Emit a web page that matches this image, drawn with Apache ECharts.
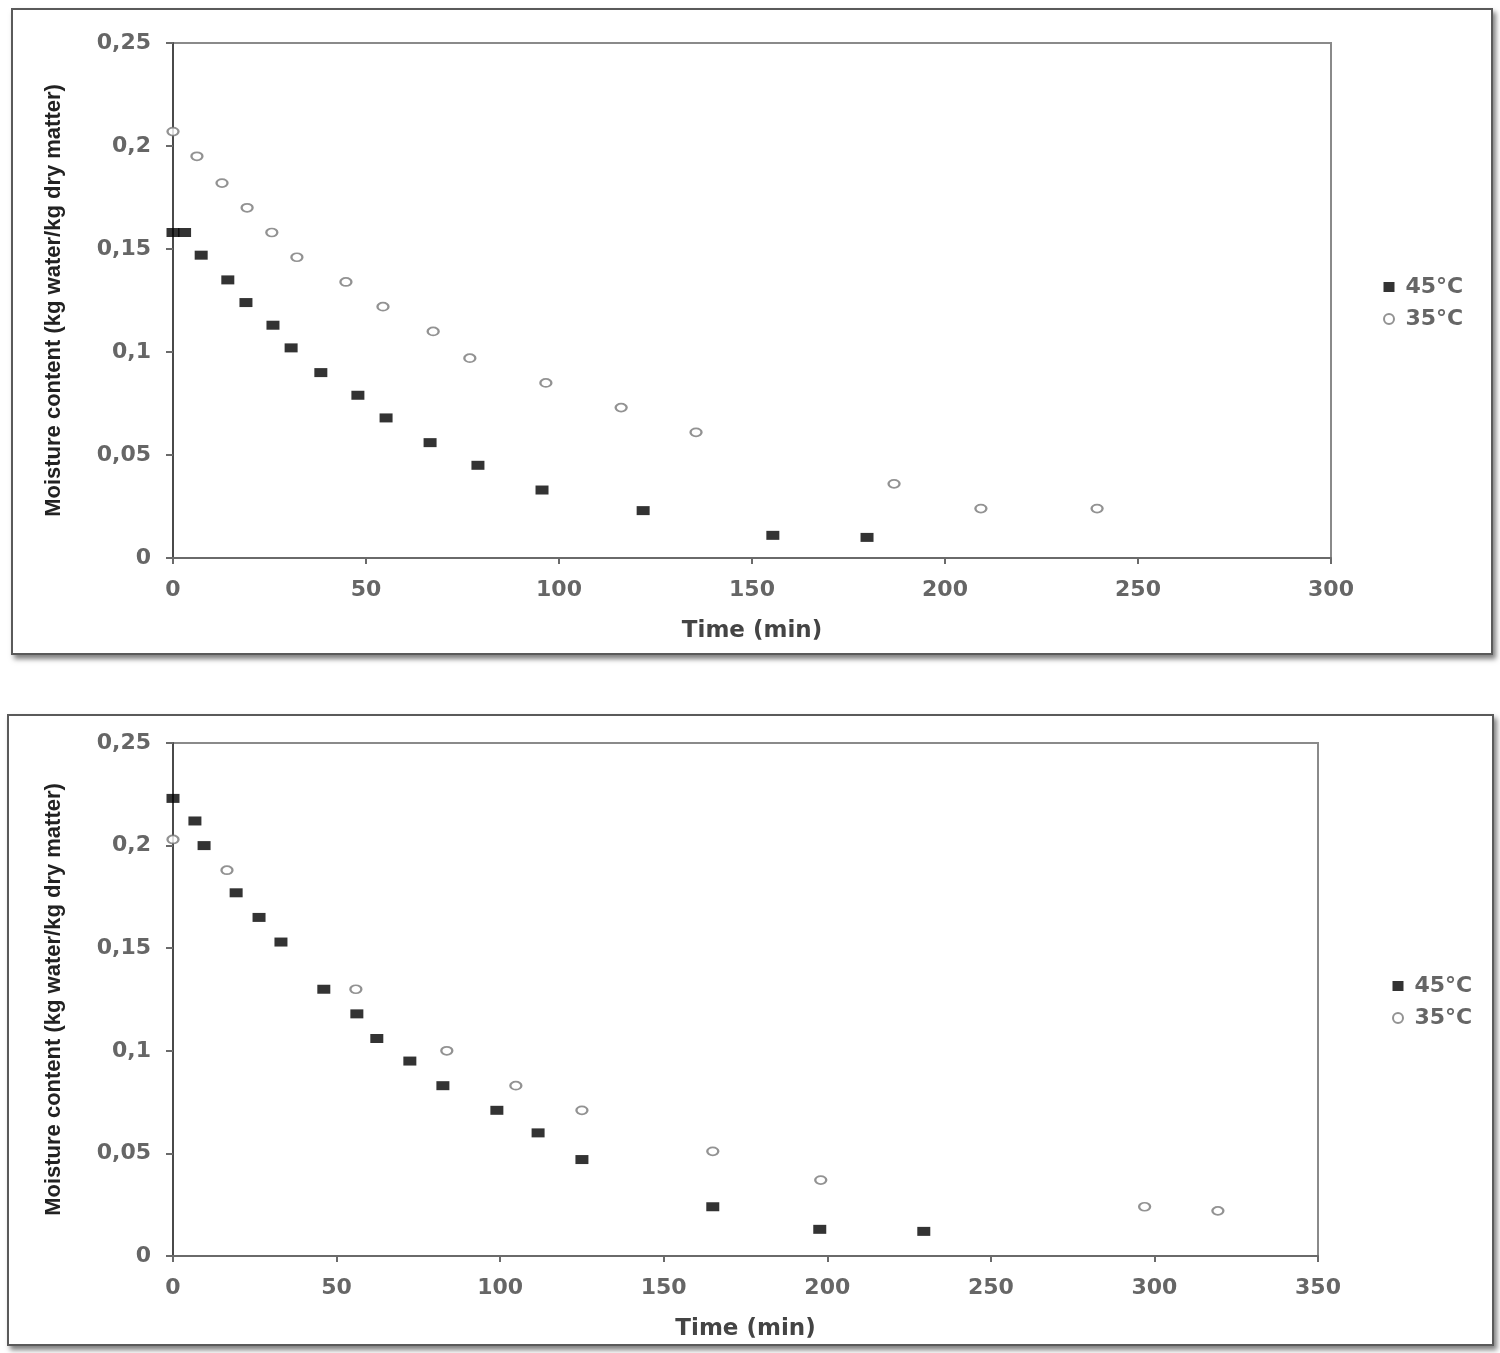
<!DOCTYPE html>
<html>
<head>
<meta charset="utf-8">
<script src="https://cdn.jsdelivr.net/npm/echarts@6/dist/echarts.min.js"></script>
<style>
  html, body { margin: 0; padding: 0; background: #fff; }
  .panel { position: absolute; background: #fff; border: 2px solid #5a5a5a;
           box-shadow: 3px 4px 5px rgba(0,0,0,0.5); }
  #main { position: absolute; left: 0; top: 0; width: 1500px; height: 1353px; }
</style>
</head>
<body>
<div class="panel" style="left:11px;top:8px;width:1478px;height:643px;"></div>
<div class="panel" style="left:7px;top:714px;width:1483px;height:628px;"></div>
<div id="main"></div>
<script>
// top chart, 45 and 35 degrees  [time min, moisture]
var top45 = [[0,0.158],[3,0.158],[7.3,0.147],[14.2,0.135],[18.9,0.124],[25.9,0.113],[30.6,0.102],
  [38.3,0.090],[47.9,0.079],[55.2,0.068],[66.6,0.056],[79,0.045],[95.6,0.033],[121.8,0.023],
  [155.4,0.011],[179.8,0.010]];
var top35 = [[0,0.207],[6.2,0.195],[12.7,0.182],[19.2,0.170],[25.6,0.158],[32.1,0.146],[44.8,0.134],
  [54.4,0.122],[67.4,0.110],[76.9,0.097],[96.6,0.085],[116.1,0.073],[135.5,0.061],[186.8,0.036],
  [209.3,0.024],[239.4,0.024]];
// bottom chart
var bot45 = [[0,0.223],[6.7,0.212],[9.5,0.200],[19.3,0.177],[26.3,0.165],[33,0.153],[46.1,0.130],
  [56.2,0.118],[62.3,0.106],[72.4,0.095],[82.5,0.083],[99,0.071],[111.6,0.060],[125,0.047],
  [165,0.024],[197.7,0.013],[229.5,0.012]];
var bot35 = [[0,0.203],[16.5,0.188],[55.9,0.130],[83.7,0.100],[104.8,0.083],[125,0.071],
  [165,0.051],[198,0.037],[297,0.024],[319.4,0.022]];

var names = ['45°C', '35°C'];
var yName = 'Moisture content (kg water/kg dry matter)';
var xName = 'Time (min)';

var txt = '#666';
var font = "'DejaVu Sans', 'Liberation Sans', Arial, sans-serif";

function xAxis(gi, max) {
  return {
    gridIndex: gi, type: 'value', min: 0, max: max, interval: 50,
    name: xName, nameLocation: 'middle', nameGap: 62,
    nameTextStyle: { color: '#444', fontSize: 23, fontWeight: 'bold', fontFamily: font },
    axisLine: { lineStyle: { color: '#6a6a6a', width: 2 } },
    axisTick: { lineStyle: { color: '#6a6a6a', width: 2 }, length: 6 },
    axisLabel: { color: txt, fontSize: 22, fontWeight: 'bold', fontFamily: font, margin: 21 },
    splitLine: { show: false }
  };
}
function yAxis(gi) {
  return {
    gridIndex: gi, type: 'value', min: 0, max: 0.25, interval: 0.05,
    name: yName, nameLocation: 'middle', nameGap: 108, nameRotate: 90,
    nameTextStyle: { color: '#222', fontSize: 22, fontWeight: 'bold',
      fontFamily: "'Liberation Sans', Arial, sans-serif" },
    axisLine: { show: true, lineStyle: { color: '#4a4a4a', width: 2 } },
    axisTick: { show: true, lineStyle: { color: '#6a6a6a', width: 2 }, length: 7 },
    axisLabel: { color: txt, fontSize: 22, fontWeight: 'bold', fontFamily: font, margin: 22,
      formatter: function (v) { return String(+v.toFixed(2)).replace('.', ','); } },
    splitLine: { show: false }
  };
}
function sq(name, data, gi) {
  return { name: name, type: 'scatter', xAxisIndex: gi, yAxisIndex: gi, data: data,
    symbol: 'rect', symbolSize: [13, 9], itemStyle: { color: '#000' } };
}
function ci(name, data, gi) {
  return { name: name, type: 'scatter', xAxisIndex: gi, yAxisIndex: gi, data: data,
    symbol: 'circle', symbolSize: [11, 8],
    itemStyle: { color: '#fff', borderColor: '#777', borderWidth: 2 } };
}
function legend(top, left) {
  return {
    orient: 'vertical', left: left, top: top, itemGap: 10, itemWidth: 11, itemHeight: 10,
    data: names,
    textStyle: { color: txt, fontSize: 22, fontWeight: 'bold', fontFamily: font, padding: [0, 0, 0, 6] }
  };
}

var chart = echarts.init(document.getElementById('main'));
chart.setOption({
  backgroundColor: 'transparent',
  animation: false,
  grid: [
    { left: 173, top: 43, width: 1158, height: 515, show: true, borderColor: '#8a8a8a', borderWidth: 2 },
    { left: 173, top: 743, width: 1145, height: 513, show: true, borderColor: '#8a8a8a', borderWidth: 2 }
  ],
  xAxis: [xAxis(0, 300), xAxis(1, 350)],
  yAxis: [yAxis(0), yAxis(1)],
  legend: [legend(271, 1378), legend(970, 1387)],
  series: [
    sq(names[0], top45, 0), ci(names[1], top35, 0),
    sq(names[0], bot45, 1), ci(names[1], bot35, 1)
  ]
});
</script>
</body>
</html>
